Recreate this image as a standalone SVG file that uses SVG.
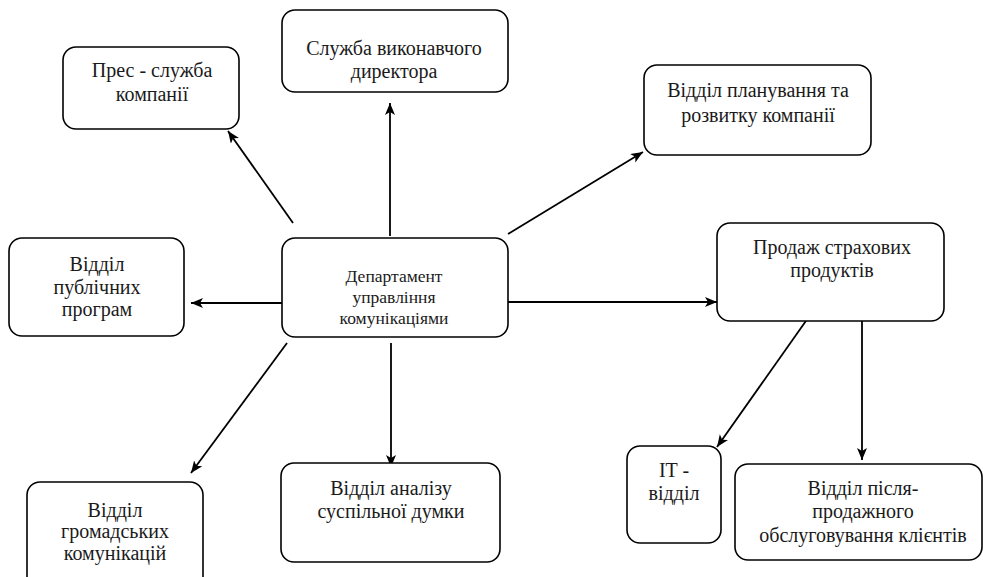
<svg xmlns="http://www.w3.org/2000/svg" width="983" height="577" viewBox="0 0 983 577">
<defs>
<marker id="arr" markerUnits="userSpaceOnUse" markerWidth="14" markerHeight="12" refX="12" refY="5" orient="auto">
<path d="M0,0 L12,5 L0,10 L3,5 z" fill="#000"/>
</marker>
<style>
.box{fill:#fff;stroke:#000;stroke-width:1.6}
text{font-family:"Liberation Serif","Times New Roman",serif;font-size:20px;fill:#1a1a1a;text-anchor:middle}
.s{font-size:17.5px}
.c line{stroke:#000;stroke-width:1.8;marker-end:url(#arr)}
</style>
</defs>
<rect width="983" height="577" fill="#fff"/>
<g class="c" id="connectors">
<line x1="293" y1="223" x2="228" y2="131"/>
<line x1="390" y1="236" x2="390" y2="103"/>
<line x1="508" y1="234" x2="643" y2="152"/>
<line x1="282" y1="303" x2="191" y2="303"/>
<line x1="508" y1="302" x2="717" y2="302"/>
<line x1="287" y1="343" x2="191" y2="473"/>
<line x1="391" y1="343" x2="391" y2="467"/>
<line x1="808" y1="318" x2="717" y2="447"/>
<line x1="862" y1="318" x2="862" y2="460"/>
</g>
<g id="sluzhba">
<rect class="box" x="282" y="10" width="226" height="82" rx="13"/>
<text x="394" y="55">Служба виконавчого</text>
<text x="394" y="78">директора</text>
</g>
<g id="pres">
<rect class="box" x="63" y="47" width="176" height="82" rx="13"/>
<text x="152" y="77">Прес - служба</text>
<text x="152" y="101">компанії</text>
</g>
<g id="planuvannia">
<rect class="box" x="644" y="65" width="227" height="90" rx="13"/>
<text x="758" y="97">Відділ планування та</text>
<text x="758" y="122">розвитку компанії</text>
</g>
<g id="publichnykh">
<rect class="box" x="9" y="238" width="175" height="98" rx="13"/>
<text x="97" y="271">Відділ</text>
<text x="97" y="294">публічних</text>
<text x="97" y="316">програм</text>
</g>
<g id="departament">
<rect class="box" x="282" y="238" width="226" height="99" rx="13"/>
<text class="s" x="394" y="282">Департамент</text>
<text class="s" x="394" y="303">управління</text>
<text class="s" x="394" y="324">комунікаціями</text>
</g>
<g id="prodazh">
<rect class="box" x="717" y="223" width="227" height="98" rx="13"/>
<text x="832" y="254">Продаж страхових</text>
<text x="832" y="277">продуктів</text>
</g>
<g id="hromadskykh">
<rect class="box" x="27" y="482" width="176" height="110" rx="13"/>
<text x="115" y="517">Відділ</text>
<text x="115" y="538">громадських</text>
<text x="115" y="560">комунікацій</text>
</g>
<g id="analizu">
<rect class="box" x="281" y="463" width="219" height="99" rx="13"/>
<text x="391" y="495">Відділ аналізу</text>
<text x="391" y="518">суспільної думки</text>
</g>
<g id="it">
<rect class="box" x="627" y="446" width="94" height="97" rx="13"/>
<text x="674" y="477">IT -</text>
<text x="674" y="500">відділ</text>
</g>
<g id="pislia">
<rect class="box" x="735" y="464" width="247" height="96" rx="13"/>
<text x="863" y="495">Відділ після-</text>
<text x="863" y="518">продажного</text>
<text x="863" y="542">обслуговування клієнтів</text>
</g>
</svg>
